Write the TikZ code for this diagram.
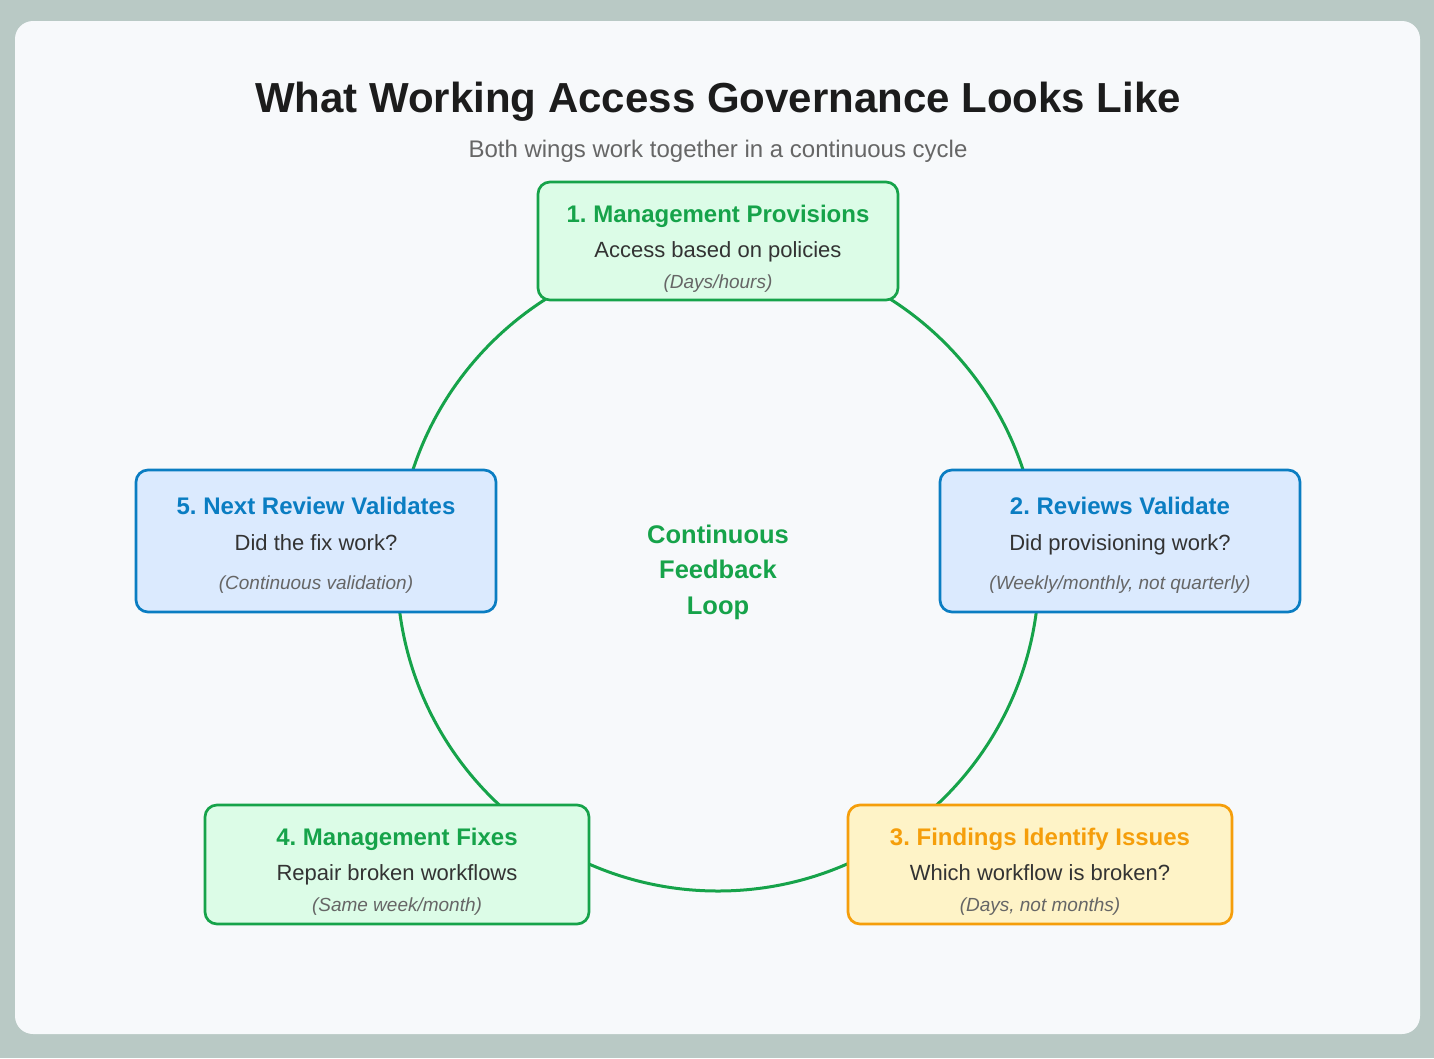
\documentclass[tikz,border=0pt]{standalone}
\usepackage{fontspec}
\setmainfont{Liberation Sans}
\frenchspacing
\definecolor{pagebg}{HTML}{B9C9C5}
\definecolor{cardbg}{HTML}{F7F9FB}
\definecolor{loopgreen}{HTML}{16A34A}
\definecolor{greenfill}{HTML}{DCFCE7}
\definecolor{bluetxt}{HTML}{0A7DC2}
\definecolor{bluefill}{HTML}{DBEAFE}
\definecolor{ambertxt}{HTML}{F59E0B}
\definecolor{amberfill}{HTML}{FEF3C7}
\definecolor{titletxt}{HTML}{1C1C1C}
\definecolor{bodytxt}{HTML}{333333}
\definecolor{greytxt}{HTML}{666666}
\begin{document}
\begin{tikzpicture}[x=1pt,y=-1pt,
    every node/.style={inner sep=0pt},
    stage/.style={draw=#1, line width=2.7pt, rounded corners=12pt},
    stagehead/.style={anchor=base, text=#1, font=\fontsize{24}{28}\selectfont\bfseries},
    stagebody/.style={anchor=base, text=bodytxt, font=\fontsize{22}{26}\selectfont},
    stagenote/.style={anchor=base, text=greytxt, font=\fontsize{19}{22}\itshape}]
    \useasboundingbox (0,0) rectangle (1434,1058);
    \fill [pagebg] (0,0) rectangle (1434,1058);
    \fill [cardbg, rounded corners=18pt] (15,21) rectangle (1420,1034);
    % heading
    \node [anchor=base, text=titletxt, font=\fontsize{42}{48}\selectfont\bfseries] (title) at (718,112) {What Working Access Governance Looks Like};
    \node [anchor=base, text=greytxt, font=\fontsize{24}{28}\selectfont] (subtitle) at (718,157.5) {Both wings work together in a continuous cycle};
    % the loop
    \coordinate (loopc) at (718,570);
    \draw [loopgreen, line width=3pt] (loopc) circle (321);
    \node [text=loopgreen, align=center, font=\fontsize{25.5}{35.5}\selectfont\bfseries] (looptxt) at (718,572) {Continuous\\Feedback\\Loop};
    % 1
    \node [stage=loopgreen, fill=greenfill, minimum width=360pt, minimum height=118pt] (prov) at (718,241) {};
    \node [stagehead=loopgreen] (provT) at (718,222.5) {1. Management Provisions};
    \node [stagebody] (provD) at (718,257) {Access based on policies};
    \node [stagenote] (provN) at (718,288) {(Days/hours)};
    % 2
    \node [stage=bluetxt, fill=bluefill, minimum width=360pt, minimum height=142pt] (rev) at (1120,541) {};
    \node [stagehead=bluetxt] (revT) at (1120,514.5) {2. Reviews Validate};
    \node [stagebody] (revD) at (1120,550) {Did provisioning work?};
    \node [stagenote] (revN) at (1120,589) {(Weekly/monthly, not quarterly)};
    % 3
    \node [stage=ambertxt, fill=amberfill, minimum width=384pt, minimum height=119pt] (find) at (1040,864.5) {};
    \node [stagehead=ambertxt] (findT) at (1040,845.5) {3. Findings Identify Issues};
    \node [stagebody] (findD) at (1040,880) {Which workflow is broken?};
    \node [stagenote] (findN) at (1040,911) {(Days, not months)};
    % 4
    \node [stage=loopgreen, fill=greenfill, minimum width=384pt, minimum height=119pt] (fix) at (397,864.5) {};
    \node [stagehead=loopgreen] (fixT) at (397,845.5) {4. Management Fixes};
    \node [stagebody] (fixD) at (397,880) {Repair broken workflows};
    \node [stagenote] (fixN) at (397,911) {(Same week/month)};
    % 5
    \node [stage=bluetxt, fill=bluefill, minimum width=360pt, minimum height=142pt] (next) at (316,541) {};
    \node [stagehead=bluetxt] (nextT) at (316,514.5) {5. Next Review Validates};
    \node [stagebody] (nextD) at (316,550) {Did the fix work?};
    \node [stagenote] (nextN) at (316,589) {(Continuous validation)};
\end{tikzpicture}
\end{document}
